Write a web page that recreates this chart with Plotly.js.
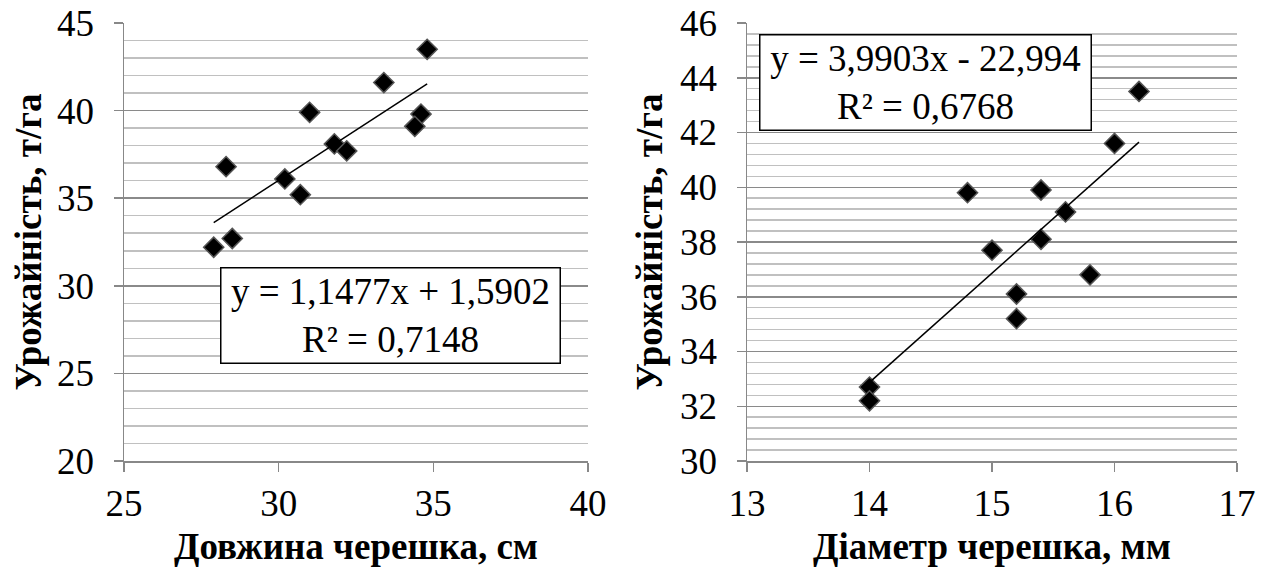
<!DOCTYPE html>
<html>
<head>
<meta charset="utf-8">
<script src="https://cdn.plot.ly/plotly-3.0.1.min.js"></script>
<style>html,body{margin:0;padding:0;background:#fff}#chart{width:1273px;height:579px}</style>
</head>
<body>
<div id="chart"></div>
<script>
// Data
const yieldVals   = [43.5, 41.6, 39.9, 39.8, 39.1, 38.1, 37.7, 36.8, 36.1, 35.2, 32.7, 32.2];
const lengthVals  = [34.8, 33.4, 31.0, 34.6, 34.4, 31.8, 32.2, 28.3, 30.2, 30.7, 28.5, 27.9];
const yieldVals2  = [43.5, 41.6, 39.9, 39.8, 39.1, 38.1, 37.7, 36.8, 36.1, 35.2, 32.7, 32.2];
const diamVals    = [16.2, 16.0, 15.4, 14.8, 15.6, 15.4, 15.0, 15.8, 15.2, 15.2, 14.0, 14.0];
const fitLeft  = {slope: 1.1477, intercept: 1.5902, r2: '0,7148', eq: 'y = 1,1477x + 1,5902'};
const fitRight = {slope: 3.9903, intercept: -22.994, r2: '0,6768', eq: 'y = 3,9903x - 22,994'};
const xTitleLeft  = 'Довжина черешка, см';
const xTitleRight = 'Діаметр черешка, мм';
const yTitle = 'Урожайність, т/га';

function lineFor(xs, fit) {
  const lo = Math.min(...xs), hi = Math.max(...xs);
  return {x: [lo, hi], y: [fit.slope * lo + fit.intercept, fit.slope * hi + fit.intercept]};
}

const FONT = 'Liberation Serif';
const marker = {symbol: 'diamond', size: 15.5, color: '#000', line: {color: '#555', width: 1.5}};
const l1 = lineFor(lengthVals, fitLeft);
const l2 = lineFor(diamVals, fitRight);

const traces = [
  {x: lengthVals, y: yieldVals, mode: 'markers', type: 'scatter', marker: marker, xaxis: 'x', yaxis: 'y', showlegend: false},
  {x: l1.x, y: l1.y, mode: 'lines', type: 'scatter', line: {color: '#000', width: 1.5}, xaxis: 'x', yaxis: 'y', showlegend: false},
  {x: diamVals, y: yieldVals2, mode: 'markers', type: 'scatter', marker: marker, xaxis: 'x2', yaxis: 'y2', showlegend: false},
  {x: l2.x, y: l2.y, mode: 'lines', type: 'scatter', line: {color: '#000', width: 1.5}, xaxis: 'x2', yaxis: 'y2', showlegend: false}
];

const axisCommon = {
  showline: true, linecolor: '#888', linewidth: 1.5,
  ticks: 'outside', ticklen: 9, tickcolor: '#888', tickwidth: 1.5,
  tickfont: {family: FONT, size: 37, color: '#000'},
  zeroline: false, fixedrange: true
};
const titleFont = {family: FONT, size: 37, color: '#000', weight: 'bold'};

const layout = {
  width: 1273, height: 579,
  margin: {l: 0, r: 0, t: 0, b: 0},
  paper_bgcolor: '#fff', plot_bgcolor: '#fff',
  font: {family: FONT, color: '#000'},
  showlegend: false,
  xaxis: Object.assign({}, axisCommon, {
    domain: [124/1273, 588/1273], range: [25, 40], dtick: 5, tick0: 25,
    showgrid: false, anchor: 'y', automargin: false,
    title: {text: xTitleLeft, font: titleFont, standoff: 10}
  }),
  yaxis: Object.assign({}, axisCommon, {
    domain: [118/579, 556/579], range: [20, 45], dtick: 5, tick0: 20,
    showgrid: true, gridcolor: '#8a8a8a', gridwidth: 1.5,
    minor: {dtick: 1, showgrid: true, gridcolor: '#c0c0c0', gridwidth: 1.5, ticks: ''},
    anchor: 'x', automargin: false, ticklabelstandoff: 12,
    title: {text: yTitle, font: titleFont, standoff: 4}
  }),
  xaxis2: Object.assign({}, axisCommon, {
    domain: [747/1273, 1237/1273], range: [13, 17], dtick: 1, tick0: 13,
    showgrid: false, anchor: 'y2', automargin: false,
    title: {text: xTitleRight, font: titleFont, standoff: 10}
  }),
  yaxis2: Object.assign({}, axisCommon, {
    domain: [118/579, 556/579], range: [30, 46], dtick: 2, tick0: 30,
    showgrid: true, gridcolor: '#8a8a8a', gridwidth: 1.5,
    minor: {dtick: 0.4, showgrid: true, gridcolor: '#c0c0c0', gridwidth: 1.5, ticks: ''},
    anchor: 'x2', automargin: false, ticklabelstandoff: 12,
    title: {text: yTitle, font: titleFont, standoff: 6}
  }),
  annotations: [
    {xref: 'x', yref: 'y', x: 33.6, y: 28.3, xanchor: 'center', yanchor: 'middle',
     text: fitLeft.eq + '<br>R² = ' + fitLeft.r2, showarrow: false, align: 'center',
     font: {family: FONT, size: 37, color: '#000'},
     bgcolor: '#fff', bordercolor: '#000', borderwidth: 1.5, borderpad: 2, width: 334, height: 90},
    {xref: 'x2', yref: 'y2', x: 14.46, y: 43.81, xanchor: 'center', yanchor: 'middle',
     text: fitRight.eq + '<br>R² = ' + fitRight.r2, showarrow: false, align: 'center',
     font: {family: FONT, size: 37, color: '#000'},
     bgcolor: '#fff', bordercolor: '#000', borderwidth: 1.5, borderpad: 2, width: 326, height: 90}
  ]
};

Plotly.newPlot('chart', traces, layout, {staticPlot: true, displayModeBar: false});
</script>
</body>
</html>
